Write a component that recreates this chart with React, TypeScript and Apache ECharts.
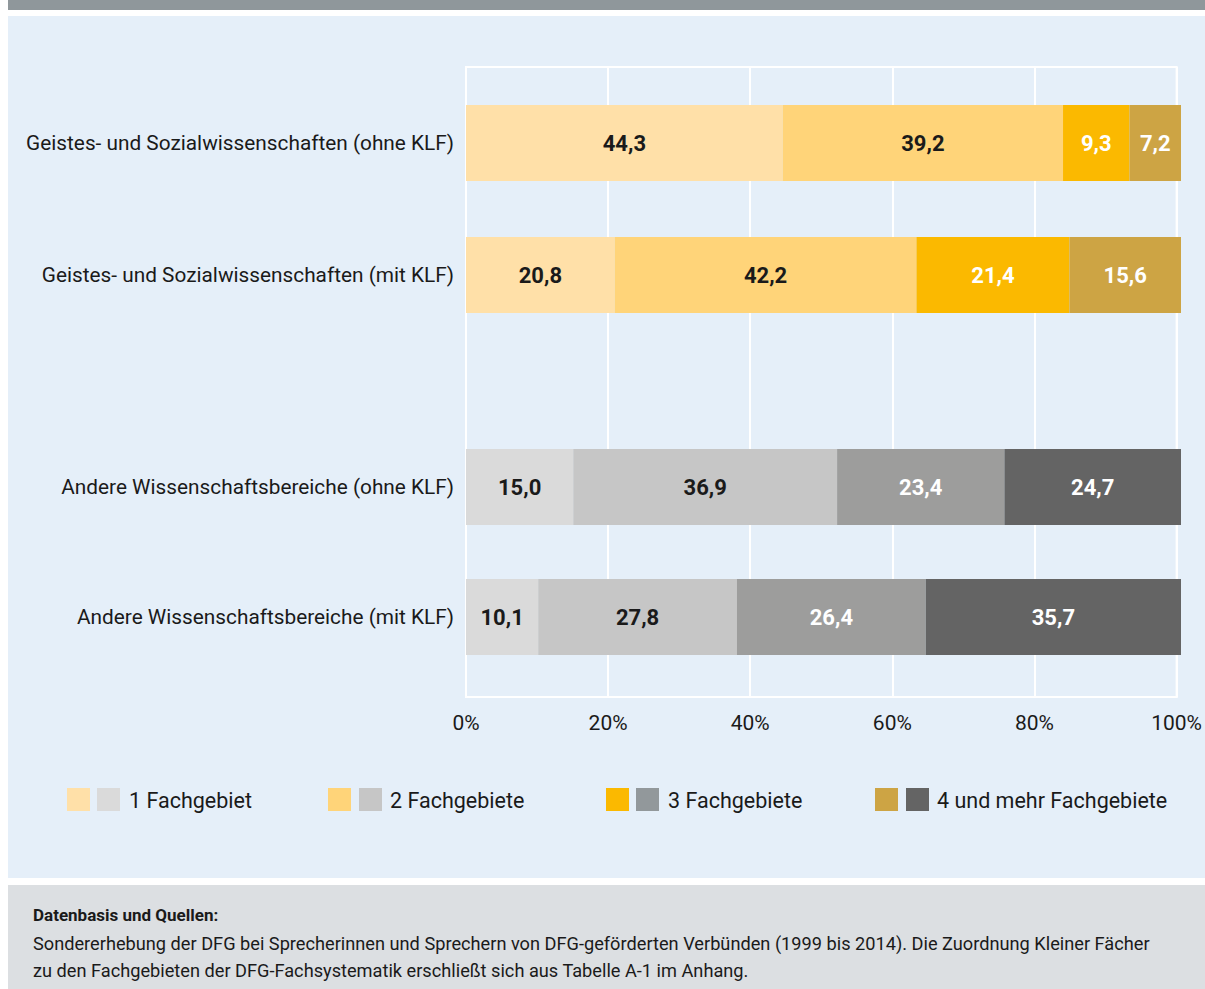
import React, { useEffect, useRef } from "react";
import * as echarts from "echarts";

const categoriesTop = [
  "Geistes- und Sozialwissenschaften (ohne KLF)",
  "Geistes- und Sozialwissenschaften (mit KLF)",
];
const categoriesBottom = [
  "Andere Wissenschaftsbereiche (ohne KLF)",
  "Andere Wissenschaftsbereiche (mit KLF)",
];
const seriesNames = ["1 Fachgebiet", "2 Fachgebiete", "3 Fachgebiete", "4 und mehr Fachgebiete"];
// values per series: [ohne KLF, mit KLF]
const topValues = [
  [44.3, 20.8],
  [39.2, 42.2],
  [9.3, 21.4],
  [7.2, 15.6],
];
const bottomValues = [
  [15.0, 10.1],
  [36.9, 27.8],
  [23.4, 26.4],
  [24.7, 35.7],
];
const yellowColors = ["#ffe0a8", "#ffd479", "#fbb900", "#cda444"];
const grayColors = ["#dadada", "#c6c6c6", "#9d9d9c", "#646464"];
const legendGray = ["#dadada", "#c6c6c6", "#92989b", "#646464"];
const topLabelColors = ["#1a1a1a", "#1a1a1a", "#ffffff", "#ffffff"];
const bottomLabelColors = ["#1a1a1a", "#1a1a1a", "#ffffff", "#ffffff"];
const footerTitle = "Datenbasis und Quellen:";
const footerLines = [
  "Sondererhebung der DFG bei Sprecherinnen und Sprechern von DFG-geförderten Verbünden (1999 bis 2014). Die Zuordnung Kleiner Fächer",
  "zu den Fachgebieten der DFG-Fachsystematik erschließt sich aus Tabelle A-1 im Anhang.",
];

const FONT = "Roboto";
const fmt = (v: number) => v.toFixed(1).replace(".", ",");

export default function App() {
  const ref = useRef<HTMLDivElement>(null);
  useEffect(() => {
    if (!ref.current) return;
    const chart = echarts.init(ref.current, undefined, { renderer: "svg" });
    const left = 466;
    const width = 715;

    const hiddenX = (gridIndex: number) => ({
      type: "value",
      gridIndex,
      min: 0,
      max: 100,
      interval: 20,
      show: false,
    });

    const makeSeries = (
      values: number[][],
      colors: string[],
      labelColors: string[],
      axisIndex: number,
      stack: string,
      suffix: string
    ) =>
      seriesNames.map((name, i) => ({
        type: "bar",
        name: name + suffix,
        xAxisIndex: axisIndex,
        yAxisIndex: axisIndex,
        stack,
        barWidth: 76,
        data: values[i],
        itemStyle: { color: colors[i] },
        label: {
          show: true,
          position: "inside",
          formatter: (p: any) => fmt(p.value),
          color: labelColors[i],
          fontFamily: FONT,
          fontWeight: "bold",
          fontSize: 22,
        },
      }));

    const series: any[] = [
      ...makeSeries(topValues, yellowColors, topLabelColors, 1, "top", " (GSW)"),
      ...makeSeries(bottomValues, grayColors, bottomLabelColors, 2, "bottom", " (Andere)"),
    ];

    const legendX = [
      [67, 97, 129],
      [328, 359, 390],
      [606, 636, 668],
      [875, 906, 937],
    ];
    const legendY = 788;
    const graphics: any[] = [
      { type: "rect", shape: { x: 8, y: 0, width: 1197, height: 10 }, style: { fill: "#8f979b" }, z: -10 },
      { type: "rect", shape: { x: 8, y: 16, width: 1197, height: 862 }, style: { fill: "#e5eff9" }, z: -10 },
      { type: "rect", shape: { x: 8, y: 885, width: 1197, height: 104 }, style: { fill: "#dcdfe2" }, z: -10 },
      {
        type: "text",
        x: 33,
        y: 915,
        style: { text: footerTitle, fill: "#1a1a1a", font: `bold 17px ${FONT}`, verticalAlign: "middle" },
      },
      ...footerLines.map((t, i) => ({
        type: "text",
        x: 33,
        y: 943 + i * 27,
        style: { text: t, fill: "#1a1a1a", font: `18.2px ${FONT}`, verticalAlign: "middle" },
      })),
    ];
    seriesNames.forEach((name, i) => {
      const [a, b, t] = legendX[i];
      graphics.push({ type: "rect", shape: { x: a, y: legendY, width: 23, height: 23 }, style: { fill: yellowColors[i] } });
      graphics.push({ type: "rect", shape: { x: b, y: legendY, width: 23, height: 23 }, style: { fill: legendGray[i] } });
      graphics.push({
        type: "text",
        x: t,
        y: legendY + 12,
        style: { text: name, fill: "#1a1a1a", font: `21.5px ${FONT}`, verticalAlign: "middle" },
      });
    });

    const catLabel = {
      color: "#1a1a1a",
      fontFamily: FONT,
      fontSize: 20.8,
      margin: 12,
    };

    chart.setOption({
      animation: false,
      backgroundColor: "#ffffff",
      grid: [
        { left, width, top: 67, height: 630, show: true, borderColor: "#ffffff", borderWidth: 2, backgroundColor: "transparent" },
        { left, width, top: 77, height: 264 },
        { left, width, top: 422, height: 260 },
      ],
      xAxis: [
        {
          type: "value",
          gridIndex: 0,
          min: 0,
          max: 100,
          interval: 20,
          axisLine: { show: true, lineStyle: { color: "#ffffff", width: 2 } },
          axisTick: { show: false },
          splitLine: { show: true, lineStyle: { color: "#ffffff", width: 2 } },
          axisLabel: {
            formatter: (v: number) => `${v}%`,
            color: "#1a1a1a",
            fontFamily: FONT,
            fontSize: 21,
            margin: 15,
          },
        },
        hiddenX(1),
        hiddenX(2),
      ],
      yAxis: [
        { type: "category", gridIndex: 0, data: [""], show: false },
        {
          type: "category",
          gridIndex: 1,
          data: categoriesTop,
          inverse: true,
          axisLine: { show: false },
          axisTick: { show: false },
          axisLabel: catLabel,
        },
        {
          type: "category",
          gridIndex: 2,
          data: categoriesBottom,
          inverse: true,
          axisLine: { show: false },
          axisTick: { show: false },
          axisLabel: catLabel,
        },
      ],
      series,
      graphic: graphics,
    });
    return () => chart.dispose();
  }, []);
  return (
    <div
      ref={ref}
      style={{ position: "absolute", left: 0, top: 0, width: 1205, height: 989 }}
    />
  );
}
